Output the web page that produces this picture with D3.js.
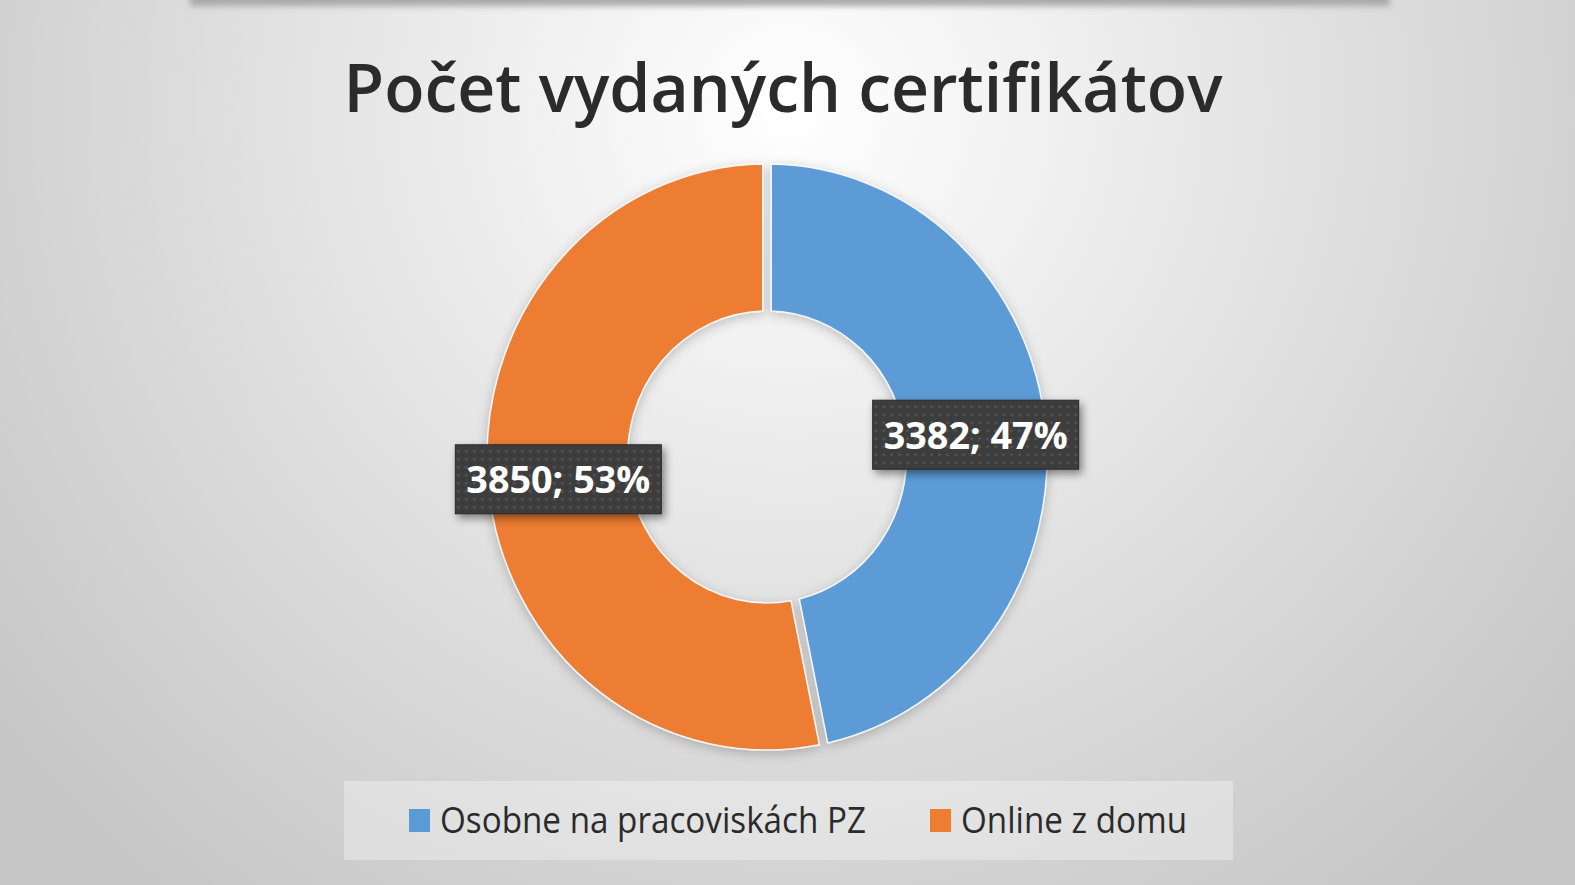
<!DOCTYPE html>
<html>
<head>
<meta charset="utf-8">
<script src="https://cdn.jsdelivr.net/npm/d3@7"></script>
<style>
  html, body { margin: 0; padding: 0; overflow: hidden; }
  svg { display: block; }
</style>
</head>
<body>
<div id="chart"></div>
<script>
const title = "Počet vydaných certifikátov";
const categories = ["Osobne na pracoviskách PZ", "Online z domu"];
const values = [3382, 3850];
const percents = ["47%", "53%"];
const colors = ["#5b9bd5", "#ed7d31"];

const width = 1575, height = 885;
const cx = 767, cy = 457;
const outerR = 293, innerR = 146;
const sx = 280 / 293;   // the picture is a bit narrower than tall

const svg = d3.select("#chart")
   .append("svg")
   .attr("width", width)
   .attr("height", height);

const defs = svg.append("defs");

const bg = defs.append("radialGradient")
   .attr("id", "bg")
   .attr("gradientUnits", "userSpaceOnUse")
   .attr("cx", 790).attr("cy", 110).attr("r", 1000);
bg.append("stop").attr("offset", 0).attr("stop-color", "#ffffff");
bg.append("stop").attr("offset", 0.3).attr("stop-color", "#eeeeee");
bg.append("stop").attr("offset", 0.75).attr("stop-color", "#d4d4d4");
bg.append("stop").attr("offset", 1).attr("stop-color", "#c6c6c6");

const blur = defs.append("filter").attr("id", "blur")
   .attr("x", "-10%").attr("y", "-200%").attr("width", "120%").attr("height", "500%");
blur.append("feGaussianBlur").attr("stdDeviation", 3);

const ringShadow = defs.append("filter").attr("id", "ringShadow")
   .attr("x", "-20%").attr("y", "-20%").attr("width", "140%").attr("height", "140%");
ringShadow.append("feDropShadow")
   .attr("dx", 0).attr("dy", 3).attr("stdDeviation", 6)
   .attr("flood-color", "#000").attr("flood-opacity", 0.22);

const boxShadow = defs.append("filter").attr("id", "boxShadow")
   .attr("x", "-20%").attr("y", "-30%").attr("width", "140%").attr("height", "170%");
boxShadow.append("feDropShadow")
   .attr("dx", 3).attr("dy", 4).attr("stdDeviation", 4)
   .attr("flood-color", "#000").attr("flood-opacity", 0.45);

const dots = defs.append("pattern").attr("id", "dots")
   .attr("patternUnits", "userSpaceOnUse")
   .attr("width", 8).attr("height", 8);
dots.append("rect").attr("width", 8).attr("height", 8).attr("fill", "#3c3c3c");
dots.append("circle").attr("cx", 4).attr("cy", 4).attr("r", 1.6).attr("fill", "#545454");

// background
svg.append("rect")
   .attr("width", width).attr("height", height)
   .attr("fill", "url(#bg)");

svg.append("rect")
   .attr("x", 190).attr("y", -6)
   .attr("width", 1200).attr("height", 12)
   .attr("fill", "#a9a9a9")
   .attr("filter", "url(#blur)");

// title
svg.append("text")
   .attr("x", 783).attr("y", 112)
   .attr("text-anchor", "middle")
   .attr("font-family", "Open Sans, sans-serif")
   .attr("font-weight", 600)
   .attr("font-size", 67)
   .attr("fill", "#2b2b2b")
   .attr("textLength", 879)
   .attr("lengthAdjust", "spacingAndGlyphs")
   .text(title);

// donut
const color = d3.scaleOrdinal().domain(categories).range(colors);

const pie = d3.pie()
   .value((d) => d.value)
   .sort(null);

const arcs = pie(categories.map((c, i) => ({ name: c, value: values[i], pct: percents[i] })));

const arc = d3.arc()
   .innerRadius(innerR)
   .outerRadius(outerR)
   .padRadius(outerR)
   .padAngle(9 / outerR);

const labelArc = d3.arc()
   .innerRadius((innerR + outerR) / 2)
   .outerRadius((innerR + outerR) / 2);

const ring = svg.append("g")
   .attr("transform", "translate(" + cx + "," + cy + ") scale(" + sx + ",1)")
   .attr("filter", "url(#ringShadow)");

ring.selectAll("path")
   .data(arcs)
   .enter()
   .append("path")
   .attr("d", arc)
   .attr("fill", (d) => color(d.data.name))
   .attr("stroke", "#f4f7fa")
   .attr("stroke-width", 1.5);

// data labels
const boxW = 206, boxH = 69;
const labels = svg.selectAll("g.label")
   .data(arcs)
   .enter()
   .append("g")
   .attr("class", "label")
   .attr("transform", (d) => {
      const c = labelArc.centroid(d);
      return "translate(" + (cx + c[0] * sx) + "," + (cy + c[1]) + ")";
   });

labels.append("rect")
   .attr("x", -boxW / 2).attr("y", -boxH / 2)
   .attr("width", boxW).attr("height", boxH)
   .attr("fill", "url(#dots)")
   .attr("stroke", "#2a2a2a")
   .attr("stroke-width", 1)
   .attr("filter", "url(#boxShadow)");

labels.append("text")
   .attr("text-anchor", "middle")
   .attr("y", 14)
   .attr("font-family", "Open Sans, sans-serif")
   .attr("font-weight", "bold")
   .attr("font-size", 38)
   .attr("fill", "#ffffff")
   .attr("textLength", 184)
   .attr("lengthAdjust", "spacingAndGlyphs")
   .text((d) => d.data.value + "; " + d.data.pct);

// legend
svg.append("rect")
   .attr("x", 344).attr("y", 781)
   .attr("width", 889).attr("height", 79)
   .attr("fill", "#ffffff")
   .attr("fill-opacity", 0.32);

const legendX = d3.scaleOrdinal().domain(categories).range([409, 930]);
const legendW = d3.scaleOrdinal().domain(categories).range([426, 226]);

const legend = svg.selectAll("g.legend")
   .data(categories)
   .enter()
   .append("g")
   .attr("class", "legend")
   .attr("transform", (d) => "translate(" + legendX(d) + ",820)");

legend.append("rect")
   .attr("x", 0).attr("y", -11)
   .attr("width", 21).attr("height", 23)
   .attr("fill", (d) => color(d));

legend.append("text")
   .attr("x", 31).attr("y", 13)
   .attr("font-family", "Open Sans, sans-serif")
   .attr("font-size", 37)
   .attr("fill", "#2b2b2b")
   .attr("textLength", (d) => legendW(d))
   .attr("lengthAdjust", "spacingAndGlyphs")
   .text((d) => d);
</script>
</body>
</html>
